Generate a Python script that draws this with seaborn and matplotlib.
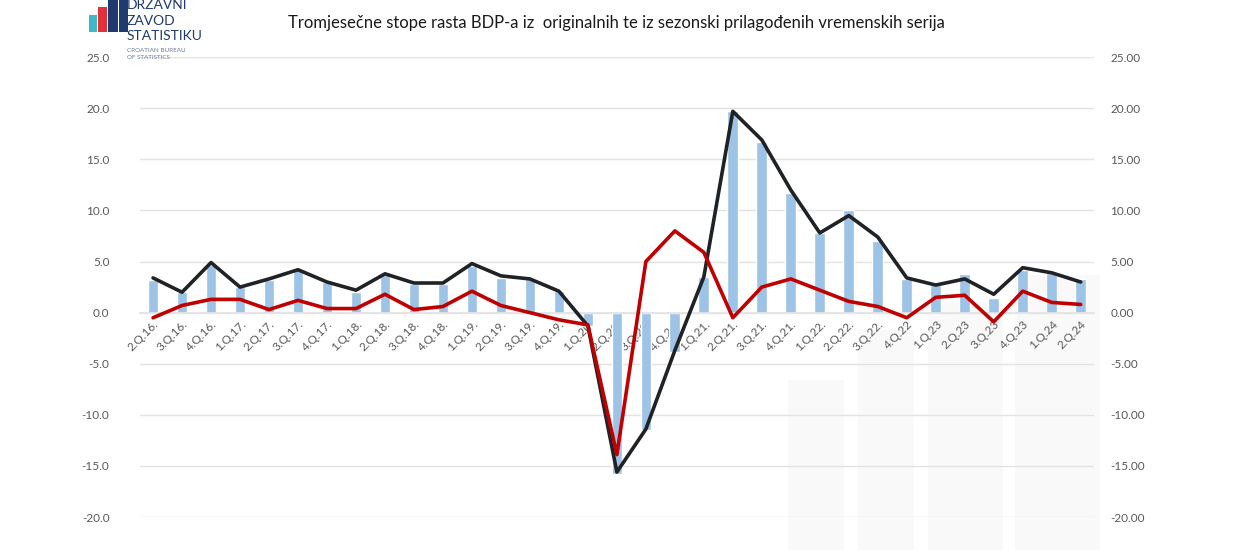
import numpy as np
import pandas as pd
import matplotlib
matplotlib.use("Agg")
import matplotlib.pyplot as plt
from matplotlib.patches import Rectangle
from matplotlib.ticker import FormatStrFormatter, MultipleLocator
import seaborn as sns

quarters = ["2.Q.16.", "3.Q.16.", "4.Q.16.", "1.Q.17.", "2.Q.17.", "3.Q.17.", "4.Q.17.",
            "1.Q.18.", "2.Q.18.", "3.Q.18.", "4.Q.18.", "1.Q.19.", "2.Q.19.", "3.Q.19.",
            "4.Q.19.", "1.Q.20.", "2.Q.20.", "3.Q.20.", "4.Q.20.", "1.Q.21.", "2.Q.21.",
            "3.Q.21.", "4.Q.21.", "1.Q.22.", "2.Q.22.", "3.Q.22.", "4.Q.22", "1.Q.23",
            "2.Q.23", "3.Q.23", "4.Q.23", "1.Q.24", "2.Q.24"]

bars_original = [3.2, 2.0, 4.7, 2.5, 3.2, 4.2, 3.0, 2.0, 3.7, 2.8, 2.8, 4.6, 3.4, 3.3,
                 2.1, -1.3, -15.8, -11.5, -3.9, 3.5, 19.7, 16.7, 11.7, 7.8, 10.0, 7.0,
                 3.3, 2.7, 3.8, 1.4, 4.2, 3.9, 3.3]

line_black = [3.4, 2.0, 4.9, 2.5, 3.3, 4.2, 3.0, 2.2, 3.8, 2.9, 2.9, 4.8, 3.6, 3.3,
              2.1, -1.3, -15.6, -11.4, -3.7, 3.5, 19.7, 16.9, 12.0, 7.8, 9.5, 7.4,
              3.4, 2.7, 3.3, 1.8, 4.4, 3.9, 3.0]

line_red = [-0.5, 0.7, 1.3, 1.3, 0.3, 1.2, 0.4, 0.4, 1.8, 0.3, 0.6, 2.1, 0.7, 0.0,
            -0.7, -1.2, -13.9, 5.0, 8.0, 5.9, -0.5, 2.5, 3.3, 2.2, 1.1, 0.6,
            -0.5, 1.5, 1.7, -0.9, 2.1, 1.0, 0.8]

title = "Tromjesečne stope rasta BDP-a iz  originalnih te iz sezonski prilagođenih vremenskih serija"

df = pd.DataFrame({"kvartal": quarters, "bar": bars_original,
                   "black": line_black, "red": line_red})

sns.set_theme(style="white")
plt.rcParams["font.family"] = ["Lato", "DejaVu Sans"]

fig = plt.figure(figsize=(12.5, 5.5), dpi=100)
ax = fig.add_axes([0.112, 0.06, 0.763, 0.836])
ax.set_facecolor("none")

# very faint watermark shapes (background)
wm = "#f9f9f9"
for (x0, y0, w, h) in [(0.630, 0.0, 0.045, 0.31), (0.686, 0.0, 0.045, 0.40),
                       (0.742, 0.0, 0.060, 0.45), (0.812, 0.0, 0.068, 0.50)]:
    fig.patches.append(Rectangle((x0, y0), w, h, transform=fig.transFigure,
                                 facecolor=wm, edgecolor="none", zorder=-5))

sns.barplot(data=df, x="kvartal", y="bar", color="#9dc3e6", saturation=1,
            width=0.37, ax=ax, zorder=2)
sns.lineplot(data=df, x="kvartal", y="black", color="#1f2326", lw=2.6,
             sort=False, ax=ax, zorder=3)
sns.lineplot(data=df, x="kvartal", y="red", color="#c00000", lw=2.6,
             sort=False, ax=ax, zorder=4)

ax.set_ylim(-20, 25)
ax.set_xlim(-0.45, len(quarters) - 0.55)
ax.yaxis.set_major_locator(MultipleLocator(5))
ax.yaxis.set_major_formatter(FormatStrFormatter("%.1f"))
ax.grid(axis="y", color="#e3e3e3", lw=1.0, zorder=0)
ax.set_axisbelow(True)
ax.set_xlabel("")
ax.set_ylabel("")
for s in ["top", "right", "left"]:
    ax.spines[s].set_visible(False)
ax.spines["bottom"].set_position(("data", 0))
ax.spines["bottom"].set_color("#e3e3e3")
ax.tick_params(axis="both", length=0, colors="#595959", labelsize=8.5)
ax.tick_params(axis="y", pad=22)
ax.tick_params(axis="x", pad=4)
for lab in ax.get_xticklabels():
    lab.set_rotation(45)
    lab.set_ha("right")
    lab.set_va("top")
    lab.set_rotation_mode("anchor")

ax2 = ax.twinx()
ax2.set_ylim(-20, 25)
ax2.yaxis.set_major_locator(MultipleLocator(5))
ax2.yaxis.set_major_formatter(FormatStrFormatter("%.2f"))
for s in ax2.spines.values():
    s.set_visible(False)
ax2.tick_params(axis="y", length=0, colors="#595959", labelsize=8.5, pad=12)
ax2.grid(False)

fig.text(0.493, 0.958, title, ha="center", va="center", fontsize=12, color="#1a1a1a")

# logo
logo_bars = [(0.0715, 0.0, 0.006, 0.030, "#3fb8c9"), (0.0785, 0.0, 0.007, 0.045, "#e2313b"),
             (0.0865, 0.0, 0.008, 0.075, "#1f3a6e"), (0.0955, 0.0, 0.0065, 0.060, "#1f3a6e")]
for (x0, y0, w, h, c) in logo_bars:
    fig.patches.append(Rectangle((x0, 1 - 0.058 + y0), w, h, transform=fig.transFigure,
                                 facecolor=c, edgecolor="none"))
fig.text(0.1015, 0.992, "DRŽAVNI", fontsize=10, color="#1f3a6e", va="center", ha="left")
fig.text(0.1015, 0.962, "ZAVOD", fontsize=10, color="#1f3a6e", va="center", ha="left")
fig.text(0.1015, 0.934, "STATISTIKU", fontsize=10, color="#1f3a6e", va="center", ha="left")
fig.text(0.1015, 0.909, "CROATIAN BUREAU", fontsize=4.5, color="#6b7a99", va="center", ha="left")
fig.text(0.1015, 0.896, "OF STATISTICS", fontsize=4.5, color="#6b7a99", va="center", ha="left")

fig.savefig("out.png", dpi=100)
